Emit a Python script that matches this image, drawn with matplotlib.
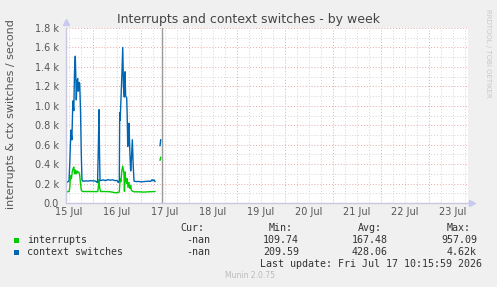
import numpy as np
import matplotlib
matplotlib.use('Agg')
import matplotlib.pyplot as plt
from matplotlib.ticker import FixedLocator, FixedFormatter

# Data (x = days since 15 Jul 00:00, y = per second)
nan = np.nan
ctx_t = [0.44, 0.46, 0.48, 0.50, 0.515, 0.54, 0.56, 0.58, 0.60, 0.615, 0.631, 0.642,
         0.652, 0.665, 0.681, 0.692, 0.702, 0.713, 0.723, 0.74, 0.756, 0.77, 0.785,
         0.82, 0.86, 0.90, 0.95, 1.0, 1.05, 1.08, 1.095, 1.112, 1.125, 1.136, 1.146,
         1.17, 1.21, 1.26, 1.31, 1.36, 1.41, 1.46, 1.50, 1.53, 1.548, 1.556, 1.566,
         1.577, 1.60, 1.619, 1.635, 1.652, 1.667, 1.68, 1.702, 1.712, 1.723, 1.735,
         1.75, 1.765, 1.785, 1.80, 1.819, 1.836, 1.854, 1.90, 1.95, 2.00, 2.05, 2.10,
         2.15, 2.20, 2.23, 2.25, 2.27, 2.29, 2.34, 2.396, 2.41]
ctx_v = [205, 215, 220, 225, 400, 750, 650, 1050, 950, 1350, 1510, 1300,
         1060, 1250, 1280, 1150, 1160, 1240, 1230, 950, 500, 240, 225,
         225, 228, 225, 230, 228, 226, 215, 210, 600, 960, 500, 230,
         232, 238, 230, 240, 235, 238, 230, 232, 210, 230, 930, 850,
         1000, 1300, 1600, 1200, 1090, 1350, 1100, 1080, 900, 580, 700,
         820, 550, 330, 450, 650, 400, 225, 220, 222, 218, 220, 222,
         225, 222, 240, 228, 238, 222, nan, 590, 650]

irq_t = [0.44, 0.50, 0.515, 0.53, 0.55, 0.57, 0.59, 0.60, 0.615, 0.631, 0.65, 0.665,
         0.681, 0.70, 0.72, 0.74, 0.756, 0.785, 0.85, 0.95, 1.05, 1.10, 1.115, 1.125,
         1.14, 1.16, 1.25, 1.35, 1.42, 1.47, 1.53, 1.548, 1.565, 1.58, 1.60, 1.619,
         1.635, 1.645, 1.655, 1.667, 1.68, 1.70, 1.712, 1.73, 1.75, 1.77, 1.785, 1.80,
         1.83, 1.86, 1.95, 2.05, 2.15, 2.29, 2.34, 2.396, 2.41]
irq_v = [115, 118, 150, 280, 250, 330, 360, 370, 300, 340, 300, 330,
         310, 320, 300, 200, 130, 118, 118, 118, 117, 118, 190, 240,
         150, 118, 118, 116, 110, 105, 108, 115, 250, 220, 330, 380,
         330, 300, 120, 320, 250, 200, 250, 160, 210, 150, 180, 130,
         120, 115, 115, 112, 115, 118, nan, 440, 470]

day_labels = ['15 Jul', '16 Jul', '17 Jul', '18 Jul', '19 Jul', '20 Jul', '21 Jul', '22 Jul', '23 Jul']
now_day = 2.43

legend_names = ['interrupts', 'context switches']
legend_colors = ['#00cc00', '#0066b3']
cur_vals = ['-nan', '-nan']
min_vals = ['109.74', '209.59']
avg_vals = ['167.48', '428.06']
max_vals = ['957.09', '4.62k']

W, H = 497, 287


def px(x, y):
    return x / W, 1 - y / H


fig = plt.figure(figsize=(W / 100, H / 100), dpi=100, facecolor='#f0f0f0')
ax = fig.add_axes([66 / W, (H - 203) / H, (468 - 66) / W, (203 - 28) / H])
ax.set_facecolor('white')
ax.set_xlim(0.4375, 8.81)
ax.set_ylim(0, 1800)

# grid: red at midnight / every 0.2k, grey every 6h / 0.1k
major_x = list(range(1, 9))
minor_x = [d / 4 for d in range(2, 36) if d % 4 != 0]
ax.xaxis.set_major_locator(FixedLocator(major_x))
ax.xaxis.set_minor_locator(FixedLocator(minor_x))
ax.xaxis.set_major_formatter(FixedFormatter([''] * len(major_x)))
minor_lbl = [day_labels[int(v)] if abs(v % 1 - 0.5) < 1e-6 else '' for v in minor_x]
ax.xaxis.set_minor_formatter(FixedFormatter(minor_lbl))

ax.yaxis.set_major_locator(FixedLocator(np.arange(0, 1801, 200)))
ax.yaxis.set_minor_locator(FixedLocator(np.arange(100, 1800, 200)))
ax.set_yticklabels(['0.0'] + ['%.1f k' % (v / 1000) for v in np.arange(200, 1801, 200)])

ax.grid(which='major', color='#e8a8a8', linestyle=(0, (1, 2)), linewidth=0.7)
ax.grid(which='minor', color='#d4d4d4', linestyle=(0, (1, 2)), linewidth=0.7)
ax.set_axisbelow(True)

ax.tick_params(which='both', length=0, labelsize=7, colors='#555555')
ax.tick_params(axis='y', pad=5)
ax.tick_params(axis='x', which='minor', pad=3)

for s in ['top', 'right']:
    ax.spines[s].set_visible(False)
for s in ['left', 'bottom']:
    ax.spines[s].set_color('#c8c8e0')
    ax.spines[s].set_linewidth(1)

# axis arrows
ax.plot([0], [1.035], marker='^', markersize=5, color='#c8c8f0', transform=ax.transAxes, clip_on=False)
ax.plot([1.01], [0], marker='>', markersize=5, color='#c8c8f0', transform=ax.transAxes, clip_on=False)

ax.plot(irq_t, irq_v, color=legend_colors[0], linewidth=1)
ax.plot(ctx_t, ctx_v, color=legend_colors[1], linewidth=1)
ax.axvline(now_day, color='#999999', linewidth=1)

fig.text(*px(248.5, 19), 'Interrupts and context switches - by week', ha='center', va='center',
         fontsize=9, color='#444444')
fig.text(*px(11, 114), 'interrupts & ctx switches / second', rotation=90, ha='center', va='center',
         fontsize=8, color='#555555')
fig.text(*px(488, 53), 'RRDTOOL / TOBI OETIKER', rotation=270, ha='center', va='center',
         fontsize=5, color='#c8c8c8')

mono = dict(family='DejaVu Sans Mono', fontsize=7.2, color='#333333', va='center')
row_y = [240, 252]
for x_right, head in [(210, 'Cur:'), (299, 'Min:'), (388, 'Avg:'), (477, 'Max:')]:
    fig.text(*px(x_right - 6, 228), head, ha='right', **mono)
for i in range(2):
    fig.patches.append(plt.Rectangle(px(14, row_y[i] + 3), 5 / W, 5 / H, transform=fig.transFigure,
                                     facecolor=legend_colors[i], edgecolor='none'))
    fig.text(*px(27, row_y[i]), legend_names[i], ha='left', **mono)
    fig.text(*px(210, row_y[i]), cur_vals[i], ha='right', **mono)
    fig.text(*px(299, row_y[i]), min_vals[i], ha='right', **mono)
    fig.text(*px(388, row_y[i]), avg_vals[i], ha='right', **mono)
    fig.text(*px(477, row_y[i]), max_vals[i], ha='right', **mono)
fig.text(*px(482, 264), 'Last update: Fri Jul 17 10:15:59 2026', ha='right', **mono)
fig.text(*px(250, 276), 'Munin 2.0.75', ha='center', va='center', fontsize=5.5, color='#bbbbbb')

fig.savefig('out.png', dpi=100, facecolor=fig.get_facecolor())
